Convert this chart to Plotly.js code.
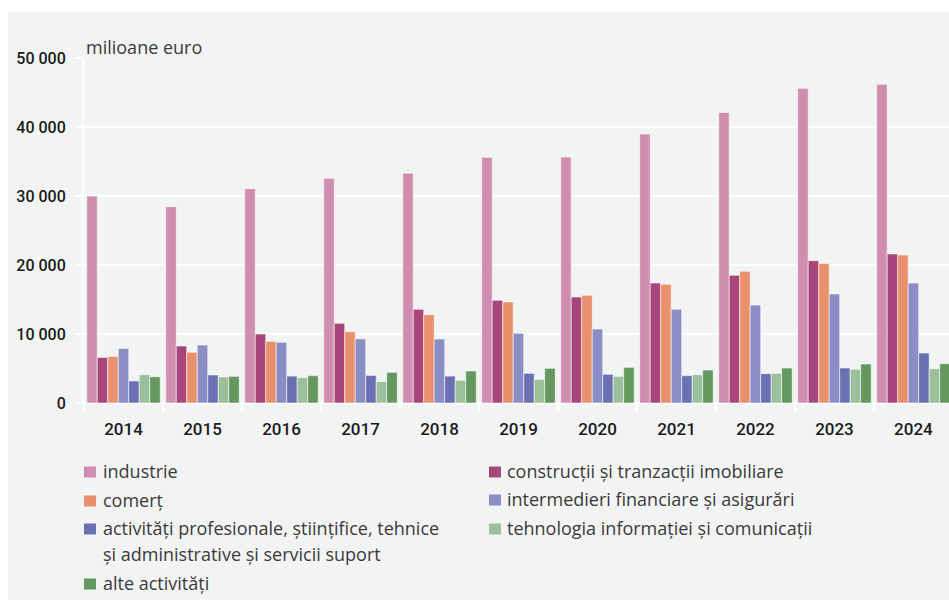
<!DOCTYPE html>
<html>
<head>
<meta charset="utf-8">
<script src="https://cdn.plot.ly/plotly-3.0.1.min.js"></script>
<style>html,body{margin:0;padding:0;background:#ffffff;}</style>
</head>
<body>
<div id="chart" style="width:949px;height:600px;"></div>
<script>
const years = ["2014","2015","2016","2017","2018","2019","2020","2021","2022","2023","2024"];
const seriesNames = [
  "industrie",
  "construcții și tranzacții imobiliare",
  "comerț",
  "intermedieri financiare și asigurări",
  "activități profesionale, științifice, tehnice",
  "tehnologia informației și comunicații",
  "alte activități"
];
const seriesNameExtraLine = ["", "", "", "", "și administrative și servicii suport", "", ""];
const industrie     = [30000, 28450, 31060, 32560, 33300, 35600, 35650, 38980, 42100, 45600, 46200];
const constructii   = [6600, 8260, 10000, 11550, 13580, 14880, 15360, 17390, 18500, 20630, 21600];
const comert        = [6750, 7350, 8940, 10330, 12800, 14640, 15600, 17200, 19090, 20200, 21450];
const intermedieri  = [7900, 8400, 8800, 9300, 9280, 10100, 10720, 13580, 14200, 15800, 17390];
const profesionale  = [3200, 4060, 3900, 4000, 3900, 4300, 4160, 3960, 4250, 5070, 7250];
const tehnologia    = [4100, 3770, 3670, 3100, 3290, 3430, 3870, 4100, 4300, 4880, 4970];
const alte          = [3800, 3870, 3960, 4450, 4640, 5030, 5170, 4780, 5070, 5650, 5700];
const yTickVals   = [0, 10000, 20000, 30000, 40000, 50000];
const yTickLabels = ["0", "10 000", "20 000", "30 000", "40 000", "50 000"];
const colors = ["#cf8eb0", "#a8457a", "#e8916c", "#8a8ec4", "#6b70b3", "#9cc09c", "#63985f"];

const allValues = [industrie, constructii, comert, intermedieri, profesionale, tehnologia, alte];
const traces = allValues.map((vals, i) => ({
  type: "bar",
  name: seriesNames[i] + (seriesNameExtraLine[i] ? " " + seriesNameExtraLine[i] : ""),
  x: years,
  y: vals,
  marker: {color: colors[i], line: {color: "rgba(255,255,255,0.55)", width: 1}},
  hoverinfo: "x+y+name",
  showlegend: false
}));

// plot area in pixels: left 84, width 865, top 58, height 345
const PL = 84, PW = 865, PT = 58, PH = 345;
const px2x = p => (p - PL) / PW;
const px2y = p => (PT + PH - p) / PH;

// manual legend layout (two columns, row-major order as in the reference)
const legendSlots = [
  {mx: 90, tx: 101, y: 472},
  {mx: 495, tx: 505, y: 472},
  {mx: 90, tx: 101, y: 501},
  {mx: 495, tx: 505, y: 500},
  {mx: 90, tx: 101, y: 529},
  {mx: 495, tx: 505, y: 529},
  {mx: 90, tx: 101, y: 584}
];
const legendFont = {family: "'Open Sans', 'Noto Sans', sans-serif", size: 18, color: "#3a3a3a"};
const shapes = [{
  // light grey panel behind the whole chart (white margin at top and left)
  type: "rect", xref: "paper", yref: "paper",
  x0: px2x(8), x1: px2x(949), y0: px2y(12), y1: px2y(600),
  fillcolor: "#f2f4f4", line: {width: 0}, layer: "below"
}];
const annotations = [{
  xref: "paper", yref: "paper",
  x: px2x(84), y: px2y(47), xanchor: "left", yanchor: "middle",
  text: "milioane euro", showarrow: false,
  font: {family: "'Open Sans', 'Noto Sans', sans-serif", size: 18, color: "#3a3a3a"}
}];
seriesNames.forEach((nm, i) => {
  const s = legendSlots[i];
  shapes.push({
    type: "rect", xref: "paper", yref: "paper",
    x0: px2x(s.mx - 6), x1: px2x(s.mx + 6),
    y0: px2y(s.y - 5.5), y1: px2y(s.y + 5.5),
    fillcolor: colors[i], line: {width: 0}, layer: "above"
  });
  annotations.push({
    xref: "paper", yref: "paper", x: px2x(s.tx), y: px2y(s.y - 1),
    xanchor: "left", yanchor: "middle", showarrow: false,
    text: nm, font: legendFont
  });
  if (seriesNameExtraLine[i]) {
    annotations.push({
      xref: "paper", yref: "paper", x: px2x(s.tx), y: px2y(s.y + 25),
      xanchor: "left", yanchor: "middle", showarrow: false,
      text: seriesNameExtraLine[i], font: legendFont
    });
  }
});

const xTickFont = {family: "Roboto, 'Liberation Sans', sans-serif", size: 17, color: "#1a1a1a", weight: 500};
const yTickFont = {family: "Roboto, 'Liberation Sans', sans-serif", size: 16, color: "#1a1a1a", weight: 500};

const layout = {
  width: 949, height: 600,
  paper_bgcolor: "#ffffff",
  plot_bgcolor: "rgba(0,0,0,0)",
  margin: {l: PL, r: 0, t: PT, b: 600 - PT - PH},
  barmode: "group",
  bargap: 0.07,
  bargroupgap: 0,
  showlegend: false,
  xaxis: {
    type: "category",
    range: [-0.5, 10.45],
    tickson: "boundaries",
    ticks: "outside", ticklen: 7, tickwidth: 2, tickcolor: "#ffffff",
    tickfont: xTickFont,
    ticklabelstandoff: 14,
    showgrid: false, zeroline: false, showline: false,
    fixedrange: true
  },
  yaxis: {
    range: [0, 50000],
    tickvals: yTickVals, ticktext: yTickLabels,
    ticks: "outside", ticklen: 7, tickwidth: 2, tickcolor: "#ffffff",
    tickfont: yTickFont,
    ticklabelstandoff: 6,
    showgrid: true, gridcolor: "#ffffff", gridwidth: 2,
    zeroline: true, zerolinecolor: "#ffffff", zerolinewidth: 2,
    showline: true, linecolor: "#ffffff", linewidth: 2,
    fixedrange: true
  },
  shapes: shapes,
  annotations: annotations
};

Plotly.newPlot("chart", traces, layout, {displayModeBar: false});
</script>
</body>
</html>
